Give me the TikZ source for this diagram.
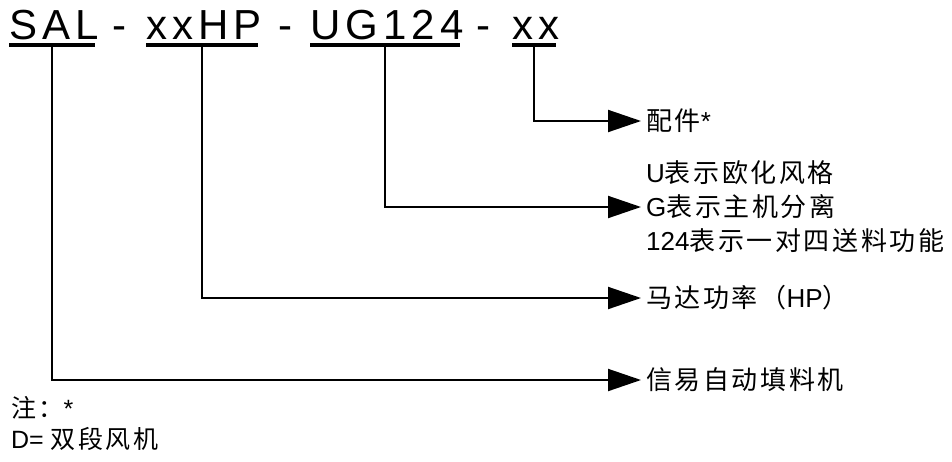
\documentclass[tikz,border=0pt]{standalone}
\usepackage{fontspec}
\setmainfont{Liberation Sans}
\newfontfamily\titlefont[LetterSpace=12]{Liberation Sans}
\newfontfamily\cjk[LetterSpace=10]{Noto Sans CJK SC}
\usetikzlibrary{arrows.meta,positioning}
\tikzset{>={Triangle[length=33pt,width=22pt]}}
\tikzstyle{part}=[inner xsep=0pt,inner ysep=6pt,text depth=0pt,anchor=base,font=\titlefont\fontsize{42}{50}\selectfont]
\tikzstyle{sep}=[inner sep=0pt,anchor=base,font=\fontsize{42}{50}\selectfont]
\tikzstyle{uline}=[line width=3.5pt]
\tikzstyle{lead}=[->,line width=2pt]
\tikzstyle{desc}=[anchor=west,inner sep=5pt,align=left,font=\fontsize{26}{34}\selectfont]
\tikzstyle{note}=[anchor=west,inner sep=0pt,font=\fontsize{25}{30}\selectfont]
\newcommand{\trim}{\kern-4pt}

\begin{document}
\begin{tikzpicture}[x=1pt,y=-1pt]
\useasboundingbox (0,0) rectangle (952,461);
% model code
\node[part] (sal) at (52,39) {SAL\trim};
\node[sep] (d1) at (119,39) {-};
\node[part] (hp) at (202,39) {xxHP\trim};
\node[sep] (d2) at (285,39) {-};
\node[part] (ug) at (385,39) {UG124\trim};
\node[sep] (d3) at (483,39) {-};
\node[part] (acc) at (534,39) {xx\trim};
\foreach \p in {sal,hp,ug,acc}
  \draw[uline] (\p.south west) -- (\p.south east);
% descriptions
\node[desc] (lacc) at (641,121) {{\cjk 配件}*};
\node[desc] (lug) at (641,207) {U{\cjk 表示欧化风格}\\G{\cjk 表示主机分离}\\124{\cjk 表示一对四送料功能}};
\node[desc] (lhp) at (641,298) {{\cjk 马达功率（}HP{\cjk ）}};
\node[desc] (lsal) at (641,380) {{\cjk 信易自动填料机}};
\draw[lead] (acc.south) |- (lacc.west);
\draw[lead] (ug.south) |- (lug.west);
\draw[lead] (hp.south) |- (lhp.west);
\draw[lead] (sal.south) |- (lsal.west);
% notes
\node[note] (star) at (11,408) {{\cjk 注：}*};
\node[note,below=8pt of star.south west,anchor=north west] (dfan) {D= {\cjk 双段风机}};
\end{tikzpicture}
\end{document}
